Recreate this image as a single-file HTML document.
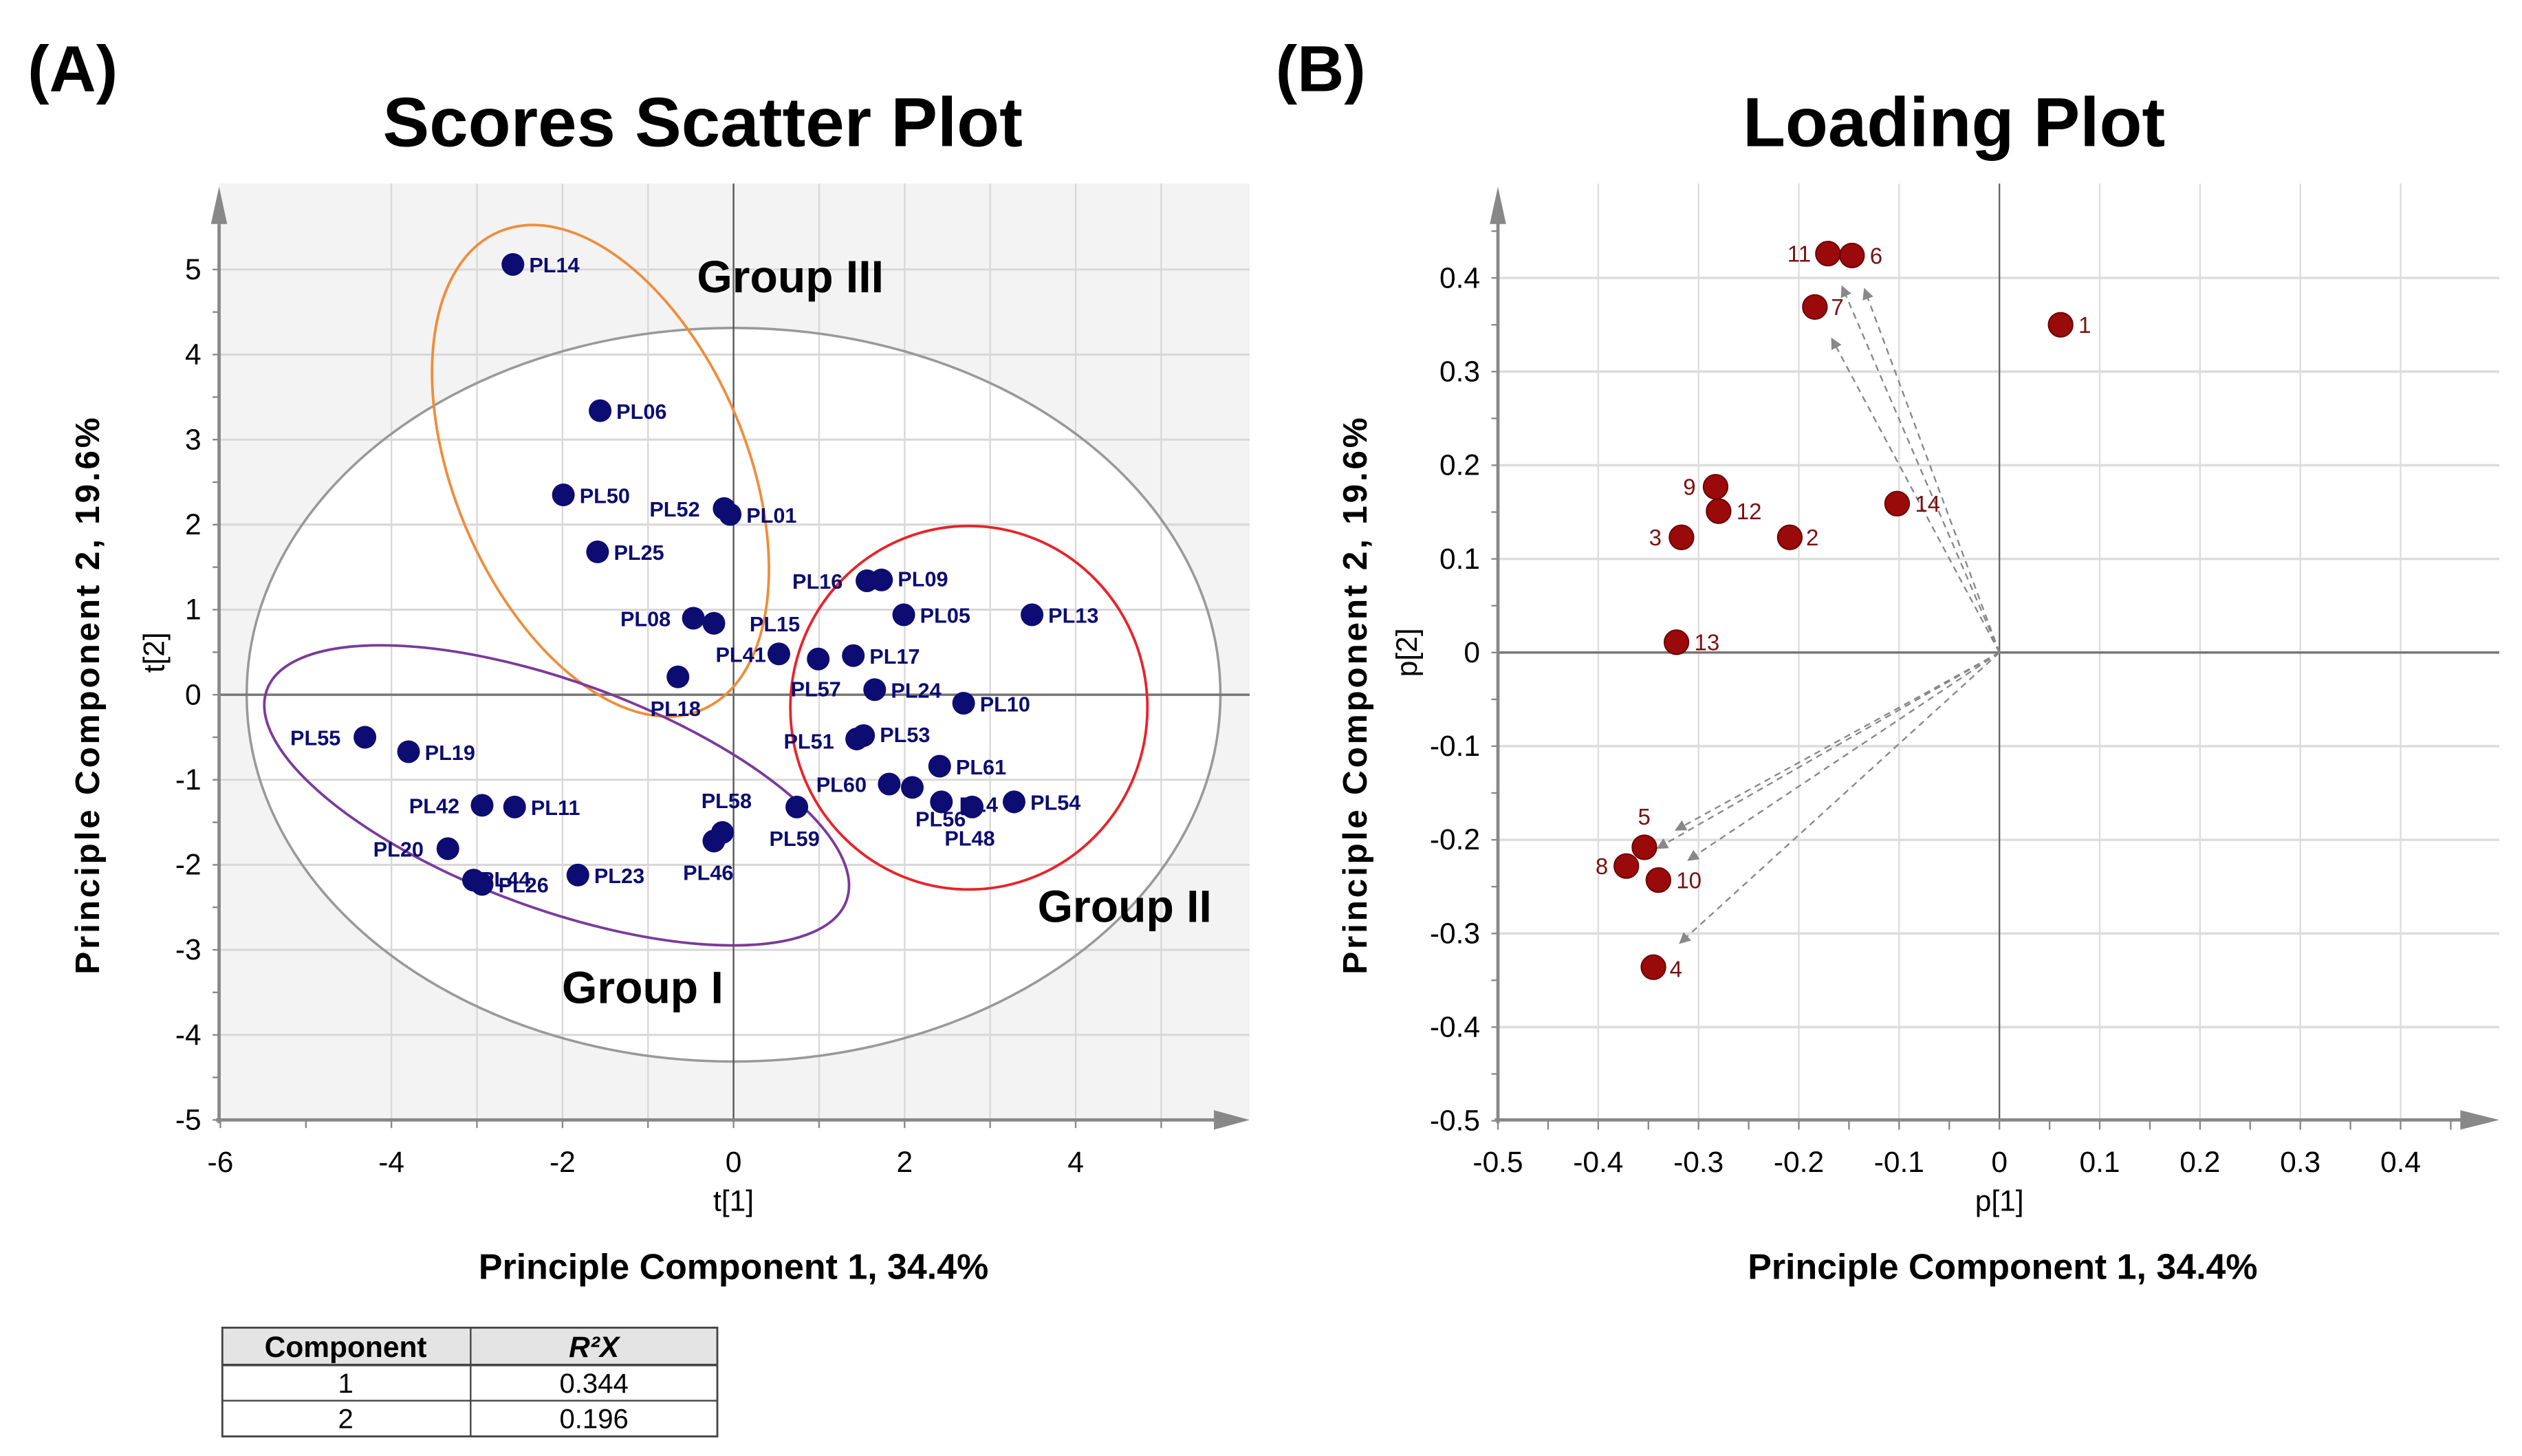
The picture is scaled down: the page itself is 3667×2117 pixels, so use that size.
<!DOCTYPE html>
<html><head><meta charset="utf-8"><style>
html,body{margin:0;padding:0;background:#fff;}
svg{display:block;}
text{font-family:"Liberation Sans",Arial,sans-serif;}
.nar{font-family:"Liberation Sans Narrow","Liberation Sans",sans-serif;}
</style></head><body>
<svg id="fig" width="3667" height="2117" viewBox="0 0 1554 897" xmlns="http://www.w3.org/2000/svg">
<defs>
<marker id="ah" viewBox="0 0 10 10" refX="9" refY="5" markerWidth="7" markerHeight="7" orient="auto"><path d="M0,0L10,5L0,10z" fill="#888"/></marker>
</defs>
<text x="17" y="56" font-size="40" font-weight="bold">(A)</text>
<text x="786" y="56" font-size="40" font-weight="bold">(B)</text>
<text x="433" y="90" font-size="43" font-weight="bold" text-anchor="middle">Scores Scatter Plot</text>
<text x="1204" y="90" font-size="43" font-weight="bold" text-anchor="middle">Loading Plot</text>
<g id="pa"></g>
<g id="pb"></g>
<text x="452" y="788" font-size="22" font-weight="bold" text-anchor="middle">Principle Component 1, 34.4%</text>
<text x="1234" y="788" font-size="22" font-weight="bold" text-anchor="middle">Principle Component 1, 34.4%</text>
<text transform="translate(61,428) rotate(-90)" font-size="21" font-weight="bold" text-anchor="middle" letter-spacing="1.6">Principle Component 2, 19.6%</text>
<text transform="translate(842,428) rotate(-90)" font-size="21" font-weight="bold" text-anchor="middle" letter-spacing="1.6">Principle Component 2, 19.6%</text>
<g>
<rect x="137" y="818" width="305" height="23" fill="#e4e4e4"/>
<rect x="137" y="818" width="305" height="67" fill="none" stroke="#444" stroke-width="1.2"/>
<line x1="137" y1="841" x2="442" y2="841" stroke="#444" stroke-width="1.5"/>
<line x1="137" y1="863" x2="442" y2="863" stroke="#444" stroke-width="1"/>
<line x1="290" y1="818" x2="290" y2="885" stroke="#444" stroke-width="1"/>
<text class="nar" x="213" y="836" font-size="18" font-weight="bold" text-anchor="middle">Component</text>
<text class="nar" x="366" y="836" font-size="18" font-weight="bold" font-style="italic" text-anchor="middle">R²X</text>
<text class="nar" x="213" y="858" font-size="17" text-anchor="middle">1</text>
<text class="nar" x="366" y="858" font-size="17" text-anchor="middle">0.344</text>
<text class="nar" x="213" y="880" font-size="17" text-anchor="middle">2</text>
<text class="nar" x="366" y="880" font-size="17" text-anchor="middle">0.196</text>
</g>
</svg>
<script>
// ===== Panel A data =====
const scoreNames = ["PL14","PL06","PL50","PL52","PL01","PL25","PL16","PL09","PL05","PL13","PL08","PL15","PL41","PL57","PL17","PL18","PL24","PL10","PL55","PL19","PL51","PL53","PL61","PL60","PL62","PL56","PL47","PL54","PL42","PL11","PL59","PL58","PL46","PL20","PL44","PL26","PL23"];
const scoreT1 = [-2.58,-1.56,-1.99,-0.11,-0.04,-1.59,1.56,1.73,1.99,3.49,-0.47,-0.23,0.53,0.99,1.40,-0.65,1.65,2.69,-4.31,-3.80,1.44,1.52,2.41,1.82,2.09,2.43,2.79,3.28,-2.94,-2.56,0.74,-0.13,-0.23,-3.34,-3.04,-2.94,-1.82];
const scoreT2 = [5.06,3.34,2.35,2.19,2.12,1.68,1.34,1.35,0.94,0.94,0.90,0.84,0.48,0.42,0.46,0.21,0.06,-0.10,-0.50,-0.67,-0.52,-0.48,-0.84,-1.05,-1.09,-1.26,-1.32,-1.26,-1.30,-1.32,-1.32,-1.62,-1.72,-1.81,-2.18,-2.23,-2.12];
const scoreLabelShown = ["PL14","PL06","PL50","PL52","PL01","PL25","PL16","PL09","PL05","PL13","PL08","PL15","PL41","PL57","PL17","PL18","PL24","PL10","PL55","PL19","PL51","PL53","PL61","PL60","","PL56","PL4","PL54","PL42","PL11","PL59","PL58","PL46","PL20","PL44","PL26","PL23"];
const xTicksA = [-6,-4,-2,0,2,4];
const yTicksA = [-5,-4,-3,-2,-1,0,1,2,3,4,5];
// label offsets (style only, display px)
const labOffA = [[10,5],[10,5],[10,5],[-46,5],[10,5],[10,5],[-46,5],[10,4],[10,5],[10,5],[-45,5],[22,5],[-39,5],[-17,23],[10,5],[-17,24],[10,5],[10,5],[-46,5],[10,5],[-45,6],[10,4],[10,5],[-45,5],[0,0],[-16,15],[-8,3],[10,5],[-45,5],[10,5],[-17,24],[-13,-15],[-19,24],[-46,5],[4,4],[10,5],[10,5]];
const SX=v=>452+v*52.7, SY=v=>428-v*52.4;
// ===== Panel B data =====
const loadIds = ["1","2","3","4","5","6","7","8","9","10","11","12","13","14"];
const loadP1 = [0.061,-0.209,-0.317,-0.345,-0.354,-0.147,-0.184,-0.372,-0.283,-0.340,-0.171,-0.280,-0.322,-0.102];
const loadP2 = [0.350,0.123,0.123,-0.336,-0.208,0.424,0.369,-0.228,0.177,-0.243,0.426,0.151,0.011,0.159];
const arrowIds = ["6","7","11","5","8","10","4"];
const xTicksB = [-0.5,-0.4,-0.3,-0.2,-0.1,0,0.1,0.2,0.3,0.4];
const yTicksB = [-0.5,-0.4,-0.3,-0.2,-0.1,0,0.1,0.2,0.3,0.4];
const labOffB = [[11,5],[10,5],[-20,5],[10,6],[-4,-14],[11,5],[10,5],[-19,5],[-20,5],[11,5],[-25,5],[11,5],[11,5],[11,5]];
const BX=v=>1232+v*618, BY=v=>402-v*577;

const NS="http://www.w3.org/2000/svg";
function mk(parent,tag,attrs,txt){const e=document.createElementNS(NS,tag);for(const k in attrs)e.setAttribute(k,attrs[k]);if(txt!==undefined)e.textContent=txt;parent.appendChild(e);return e;}

// ----- Panel A -----
const pa=document.getElementById('pa');
let e;
e=mk(pa,'rect',{x:135,y:113,width:635,height:577,fill:'#f3f3f3'});


e=mk(pa,'ellipse',{cx:SX(0),cy:SY(0),rx:300,ry:226,fill:'#fff',stroke:'none'});


const gA=mk(pa,'g',{});


for(let v=-4;v<=5;v+=1){ if(v===0) continue; mk(gA,'line',{x1:SX(v),x2:SX(v),y1:113,y2:690,stroke:'#d8d8d8','stroke-width':1});}
yTicksA.forEach(v=>{ if(v!==0 && v!==-5) mk(gA,'line',{x1:135,x2:770,y1:SY(v),y2:SY(v),stroke:'#d8d8d8','stroke-width':1.3});});
e=mk(pa,'ellipse',{cx:SX(0),cy:SY(0),rx:300,ry:226,fill:'none',stroke:'#999','stroke-width':1.5});


mk(pa,'line',{x1:SX(0),x2:SX(0),y1:113,y2:690,stroke:'#555','stroke-width':1});
mk(pa,'line',{x1:135,x2:770,y1:SY(0),y2:SY(0),stroke:'#777','stroke-width':1.5});
e=mk(pa,'line',{x1:135,x2:135,y1:692,y2:120,stroke:'#888','stroke-width':2});


mk(pa,'path',{d:'M130,138 L135,115 L140,138 Z',fill:'#888'});
e=mk(pa,'line',{x1:133,x2:755,y1:690,y2:690,stroke:'#888','stroke-width':2});


mk(pa,'path',{d:'M748,684 L770,690 L748,696 Z',fill:'#888'});
for(let v=-5;v<=5.01;v+=0.5){mk(pa,'line',{x1:131,x2:135,y1:SY(v),y2:SY(v),stroke:'#888','stroke-width':1});}
for(let v=-6;v<=5;v+=1){mk(pa,'line',{x1:SX(v),x2:SX(v),y1:690,y2:695,stroke:'#888','stroke-width':1});}
xTicksA.forEach(v=>{e=mk(pa,'text',{x:SX(v),y:722,'font-size':18,'text-anchor':'middle',class:'nar'},String(v));

});
yTicksA.forEach(v=>{e=mk(pa,'text',{x:124,y:SY(v)+6,'font-size':18,'text-anchor':'end',class:'nar'},String(v));

});
e=mk(pa,'text',{x:452,y:746,'font-size':18,'text-anchor':'middle',class:'nar'},'t[1]');


e=mk(pa,'text',{transform:'translate(101,402) rotate(-90)','font-size':18,'text-anchor':'middle',class:'nar'},'t[2]');


e=mk(pa,'ellipse',{cx:370,cy:290,rx:90,ry:160,transform:'rotate(-23 370 290)',fill:'none',stroke:'#f08c3a','stroke-width':1.6});


e=mk(pa,'ellipse',{cx:343,cy:490,rx:190,ry:70,transform:'rotate(20 343 490)',fill:'none',stroke:'#7b3a9a','stroke-width':1.6});


e=mk(pa,'ellipse',{cx:597,cy:436,rx:110,ry:112,fill:'none',stroke:'#e8232a','stroke-width':1.6});


e=mk(pa,'text',{x:487,y:180,'font-size':28,'font-weight':'bold','text-anchor':'middle'},'Group III');


e=mk(pa,'text',{x:396,y:618,'font-size':28,'font-weight':'bold','text-anchor':'middle'},'Group I');


e=mk(pa,'text',{x:693,y:568,'font-size':28,'font-weight':'bold','text-anchor':'middle'},'Group II');


scoreNames.forEach((n,i)=>{
  const cx=SX(scoreT1[i]), cy=SY(scoreT2[i]);
  e=mk(pa,'circle',{cx:cx,cy:cy,r:7,fill:'#0c0c72'});
  
  
  if(scoreLabelShown[i]){
    e=mk(pa,'text',{x:cx+labOffA[i][0],y:cy+labOffA[i][1],'font-size':13,'font-weight':'bold',fill:'#0c0c72',class:'nar'},scoreLabelShown[i]);
    
    
  }
});
e=mk(pa,'text',{x:582,y:521,'font-size':13,'font-weight':'bold',fill:'#0c0c72',class:'nar'},'PL48');



// ----- Panel B -----
const pb=document.getElementById('pb');
const gB=mk(pb,'g',{});


xTicksB.forEach(v=>{ if(v!==0 && v!==-0.5) mk(gB,'line',{x1:BX(v),x2:BX(v),y1:113,y2:690,stroke:'#ddd','stroke-width':1});});
yTicksB.forEach(v=>{ if(v!==0 && v!==-0.5) mk(gB,'line',{x1:923,x2:1540,y1:BY(v),y2:BY(v),stroke:'#ddd','stroke-width':1.5});});
mk(pb,'line',{x1:BX(0),x2:BX(0),y1:113,y2:690,stroke:'#666','stroke-width':1});
mk(pb,'line',{x1:923,x2:1540,y1:BY(0),y2:BY(0),stroke:'#777','stroke-width':1.5});
e=mk(pb,'line',{x1:923,x2:923,y1:692,y2:120,stroke:'#888','stroke-width':2});


mk(pb,'path',{d:'M918,138 L923,115 L928,138 Z',fill:'#888'});
e=mk(pb,'line',{x1:921,x2:1522,y1:690,y2:690,stroke:'#888','stroke-width':2});


mk(pb,'path',{d:'M1516,684 L1540,690 L1516,696 Z',fill:'#888'});
for(let v=-0.5;v<=0.451;v+=0.05){mk(pb,'line',{x1:919,x2:923,y1:BY(v),y2:BY(v),stroke:'#888','stroke-width':1});}
for(let v=-0.5;v<=0.451;v+=0.05){mk(pb,'line',{x1:BX(v),x2:BX(v),y1:690,y2:696,stroke:'#888','stroke-width':1});}
xTicksB.forEach(v=>{e=mk(pb,'text',{x:BX(v),y:722,'font-size':18,'text-anchor':'middle',class:'nar'},String(v));

});
yTicksB.forEach(v=>{e=mk(pb,'text',{x:912,y:BY(v)+6,'font-size':18,'text-anchor':'end',class:'nar'},String(v));

});
e=mk(pb,'text',{x:1232,y:746,'font-size':18,'text-anchor':'middle',class:'nar'},'p[1]');


e=mk(pb,'text',{transform:'translate(873,402) rotate(-90)','font-size':18,'text-anchor':'middle',class:'nar'},'p[2]');


arrowIds.forEach(id=>{
  const i=loadIds.indexOf(id);
  const px=BX(loadP1[i]), py=BY(loadP2[i]), ox=BX(0), oy=BY(0);
  const L=Math.hypot(px-ox,py-oy), k=(L-22)/L;
  e=mk(pb,'line',{x1:ox,y1:oy,x2:ox+(px-ox)*k,y2:oy+(py-oy)*k,stroke:'#888','stroke-width':1,'stroke-dasharray':'4,3','marker-end':'url(#ah)'});
  
  
});
loadIds.forEach((id,i)=>{
  const cx=BX(loadP1[i]), cy=BY(loadP2[i]);
  e=mk(pb,'circle',{cx:cx,cy:cy,r:7.5,fill:'#9a0a0a',stroke:'#6a0000','stroke-width':0.8});
  
  
  e=mk(pb,'text',{x:cx+labOffB[i][0],y:cy+labOffB[i][1],'font-size':14,fill:'#7a1010',class:'nar'},id);
  
  
});
</script>
</body></html>
